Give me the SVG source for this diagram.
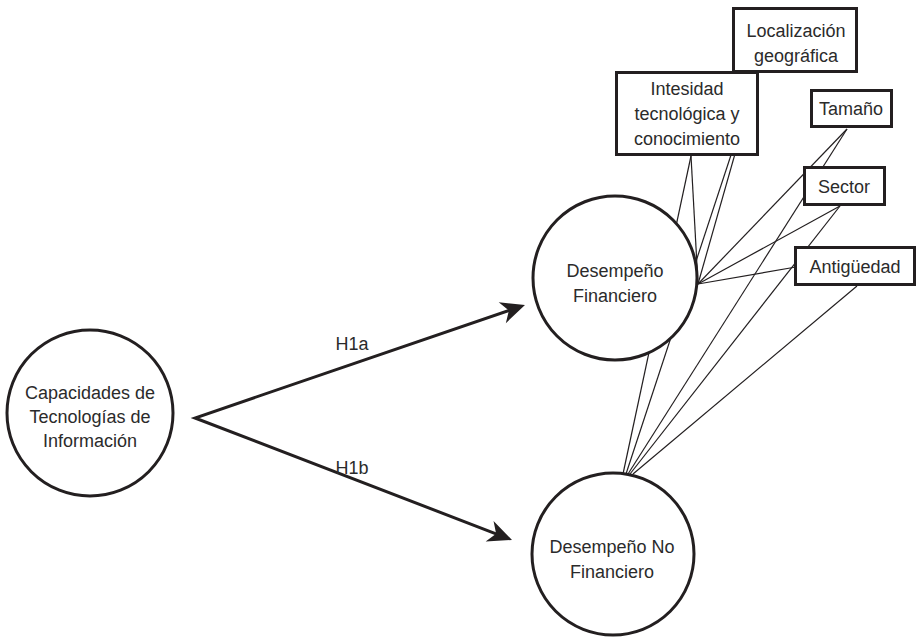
<svg xmlns="http://www.w3.org/2000/svg" width="918" height="637" viewBox="0 0 918 637">
<style>
  .bg { fill: #ffffff; }
  .node { fill: #ffffff; stroke: #231f20; stroke-width: 3; }
  .lbl { font-family: "Liberation Sans", Arial, sans-serif; font-size: 18px; fill: #2b2b2b; text-anchor: middle; }
  .thin { fill: none; stroke: #231f20; stroke-width: 1.2; }
  .arrow { fill: none; stroke: #231f20; stroke-width: 3; stroke-linejoin: miter; stroke-miterlimit: 10; }
</style>
<defs>
  <marker id="head" viewBox="-20 -12 28 24" refX="0" refY="0" markerWidth="28" markerHeight="24" markerUnits="userSpaceOnUse" orient="auto-start-reverse">
    <path d="M6,0 L-18,-11 L-11,0 L-18,11 Z" fill="#231f20"/>
  </marker>
</defs>
<rect class="bg" x="0" y="0" width="918" height="637"/>

<g id="connectors">
  <path class="arrow" d="M519.3,306.9 L195,418 L506.4,537.8" marker-start="url(#head)" marker-end="url(#head)"/>
  <text class="lbl" x="352" y="350">H1a</text>
  <text class="lbl" x="352" y="474">H1b</text>
  <line class="thin" x1="758" y1="73" x2="698" y2="284"/>
  <line class="thin" x1="758" y1="73" x2="626" y2="474"/>
  <line class="thin" x1="691" y1="156" x2="698" y2="284"/>
  <line class="thin" x1="691" y1="156" x2="623" y2="474"/>
  <line class="thin" x1="847" y1="129" x2="698" y2="284"/>
  <line class="thin" x1="847" y1="129" x2="628" y2="474"/>
  <line class="thin" x1="840" y1="206" x2="698" y2="284"/>
  <line class="thin" x1="840" y1="206" x2="630" y2="474"/>
  <line class="thin" x1="796" y1="267" x2="698" y2="284"/>
  <line class="thin" x1="857" y1="286" x2="633" y2="474"/>
</g>

<g id="capacidades">
  <circle class="node" cx="90" cy="413" r="83"/>
  <text class="lbl" x="90" y="399">Capacidades de</text>
  <text class="lbl" x="90" y="423">Tecnologías de</text>
  <text class="lbl" x="90" y="447">Información</text>
</g>

<g id="desempeno-financiero">
  <circle class="node" cx="615" cy="278" r="82"/>
  <text class="lbl" x="615" y="277">Desempeño</text>
  <text class="lbl" x="615" y="302">Financiero</text>
</g>

<g id="desempeno-no-financiero">
  <circle class="node" cx="613" cy="554" r="81"/>
  <text class="lbl" x="612" y="553">Desempeño No</text>
  <text class="lbl" x="612" y="578">Financiero</text>
</g>

<g id="localizacion">
  <rect class="node" x="733.5" y="8.5" width="123" height="63"/>
  <text class="lbl" x="796" y="37">Localización</text>
  <text class="lbl" x="796" y="62">geográfica</text>
</g>

<g id="intensidad">
  <rect class="node" x="616.5" y="72.5" width="141" height="82"/>
  <text class="lbl" x="687" y="95">Intesidad</text>
  <text class="lbl" x="687" y="120">tecnológica y</text>
  <text class="lbl" x="687" y="145">conocimiento</text>
</g>

<g id="tamano">
  <rect class="node" x="811.5" y="90.5" width="80" height="36"/>
  <text class="lbl" x="851" y="115">Tamaño</text>
</g>

<g id="sector">
  <rect class="node" x="804.5" y="167.5" width="80" height="37"/>
  <text class="lbl" x="844" y="193">Sector</text>
</g>

<g id="antiguedad">
  <rect class="node" x="795.5" y="247.5" width="119" height="37"/>
  <text class="lbl" x="855" y="273">Antigüedad</text>
</g>
</svg>
